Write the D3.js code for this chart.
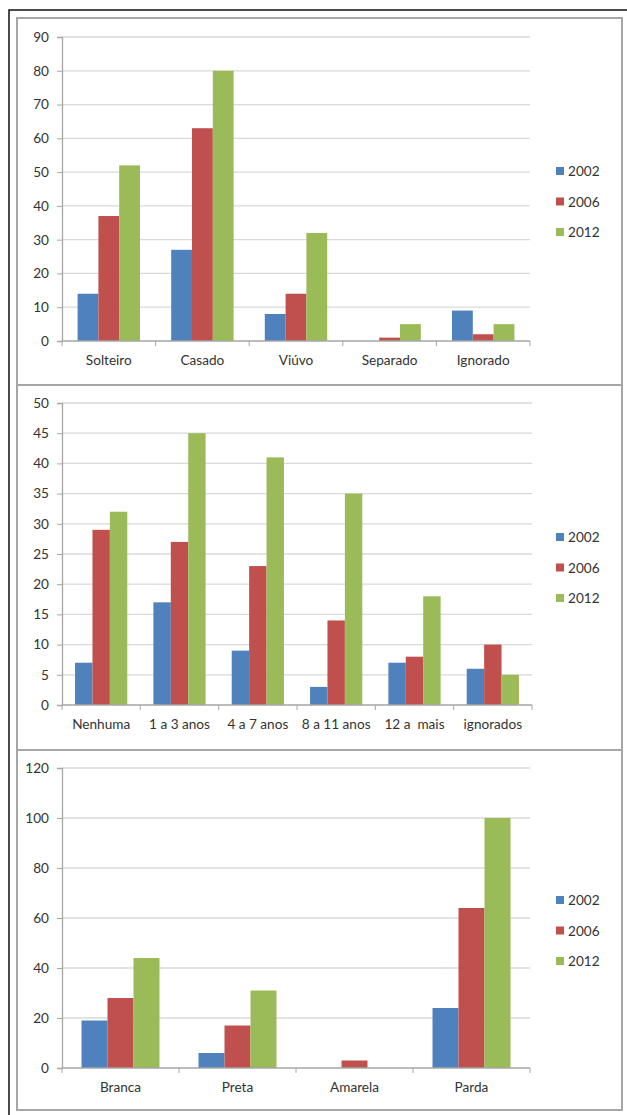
<!DOCTYPE html>
<html>
<head>
<meta charset="utf-8">
<script src="https://cdn.jsdelivr.net/npm/d3@7"></script>
<style>
  html, body { margin: 0; padding: 0; background: #fff; }
  svg { display: block; }
  text { font-family: Lato, "Open Sans", sans-serif; fill: #333; white-space: pre; }
</style>
</head>
<body>
<svg id="chart" width="627" height="1115"></svg>
<script>
// Series shared by all three panels
const years = ["2002", "2006", "2012"];
const colors = ["#4F81BD", "#C0504D", "#9BBB59"];

// Panel 1: estado civil
const civilCategories = ["Solteiro", "Casado", "Viúvo", "Separado", "Ignorado"];
const civil2002 = [14, 27, 8, 0, 9];
const civil2006 = [37, 63, 14, 1, 2];
const civil2012 = [52, 80, 32, 5, 5];
const civilTicks = [0, 10, 20, 30, 40, 50, 60, 70, 80, 90];

// Panel 2: escolaridade
const schoolCategories = ["Nenhuma", "1 a 3 anos", "4 a 7 anos", "8 a 11 anos", "12 a  mais", "ignorados"];
const school2002 = [7, 17, 9, 3, 7, 6];
const school2006 = [29, 27, 23, 14, 8, 10];
const school2012 = [32, 45, 41, 35, 18, 5];
const schoolTicks = [0, 5, 10, 15, 20, 25, 30, 35, 40, 45, 50];

// Panel 3: raça/cor
const raceCategories = ["Branca", "Preta", "Amarela", "Parda"];
const race2002 = [19, 6, 0, 24];
const race2006 = [28, 17, 3, 64];
const race2012 = [44, 31, 0, 100];
const raceTicks = [0, 20, 40, 60, 80, 100, 120];

const FONT = 13.6;
const svg = d3.select("#chart");

// outer frame (black, top/left visible)
svg.append("rect").attr("x", 9).attr("y", 10).attr("width", 640).attr("height", 1120)
  .attr("fill", "none").attr("stroke", "#111").attr("stroke-width", 1.5);

function drawPanel(opt) {
  const { box, plot, categories, series, ticks, legendY } = opt;

  // panel frame
  svg.append("rect").attr("x", box.x).attr("y", box.y).attr("width", box.w).attr("height", box.h)
    .attr("fill", "#fff").attr("stroke", "#a6a6a6").attr("stroke-width", 2);

  const x = d3.scaleBand().domain(categories).range([plot.left, plot.right]).paddingInner(0).paddingOuter(0);
  const y = d3.scaleLinear().domain([0, d3.max(ticks)]).range([plot.bottom, plot.top]);
  const inner = d3.scaleBand().domain(years).range([0, x.bandwidth()]).paddingInner(0).paddingOuter(0.75);

  const g = svg.append("g");

  // gridlines
  g.append("g").selectAll("line").data(ticks.filter(t => t > 0)).join("line")
    .attr("x1", plot.left).attr("x2", plot.right)
    .attr("y1", d => y(d)).attr("y2", d => y(d))
    .attr("stroke", "#d9d9d9").attr("stroke-width", 1.3);

  // y axis
  const yAxis = g.append("g").attr("transform", `translate(${plot.left},0)`)
    .call(d3.axisLeft(y).tickValues(ticks).tickSize(5).tickPadding(8));
  yAxis.select(".domain").attr("stroke", "#a6a6a6").attr("stroke-width", 1.3);
  yAxis.selectAll(".tick line").attr("stroke", "#a6a6a6");
  yAxis.selectAll(".tick text").attr("font-size", FONT).style("fill", "#333")
    .style("font-family", "Lato, 'Open Sans', sans-serif");

  // bars
  series.forEach((vals, si) => {
    g.append("g").selectAll("rect").data(categories).join("rect")
      .attr("x", (c) => x(c) + inner(years[si]))
      .attr("width", inner.bandwidth())
      .attr("y", (c, i) => y(vals[i]))
      .attr("height", (c, i) => y(0) - y(vals[i]))
      .attr("fill", colors[si]);
  });

  // x axis with ticks between categories
  const xAxis = g.append("g").attr("transform", `translate(0,${plot.bottom})`);
  xAxis.append("line").attr("x1", plot.left).attr("x2", plot.right)
    .attr("stroke", "#a6a6a6").attr("stroke-width", 1.3);
  const bounds = categories.map(c => x(c)).concat([plot.right]);
  xAxis.selectAll("line.tk").data(bounds).join("line").attr("class", "tk")
    .attr("x1", d => d).attr("x2", d => d).attr("y1", 0).attr("y2", 5)
    .attr("stroke", "#a6a6a6");
  xAxis.selectAll("text").data(categories).join("text")
    .attr("x", c => x(c) + x.bandwidth() / 2).attr("y", 24)
    .attr("text-anchor", "middle").attr("font-size", FONT).text(c => c);

  // legend
  const lg = svg.append("g");
  years.forEach((yr, i) => {
    lg.append("rect").attr("x", 556).attr("y", legendY + i * 30.5 - 4).attr("width", 8).attr("height", 8)
      .attr("fill", colors[i]);
    lg.append("text").attr("x", 568).attr("y", legendY + i * 30.5 + 5)
      .attr("font-size", FONT).text(yr);
  });
}

drawPanel({
  box: { x: 17, y: 18, w: 605, h: 367 },
  plot: { left: 62, right: 530, top: 37, bottom: 341 },
  categories: civilCategories,
  series: [civil2002, civil2006, civil2012],
  ticks: civilTicks,
  legendY: 171
});

drawPanel({
  box: { x: 17, y: 385, w: 605, h: 365 },
  plot: { left: 62, right: 532, top: 403, bottom: 705 },
  categories: schoolCategories,
  series: [school2002, school2006, school2012],
  ticks: schoolTicks,
  legendY: 537
});

drawPanel({
  box: { x: 17, y: 750, w: 605, h: 360 },
  plot: { left: 62, right: 530, top: 768, bottom: 1068 },
  categories: raceCategories,
  series: [race2002, race2006, race2012],
  ticks: raceTicks,
  legendY: 900
});
</script>
</body>
</html>
